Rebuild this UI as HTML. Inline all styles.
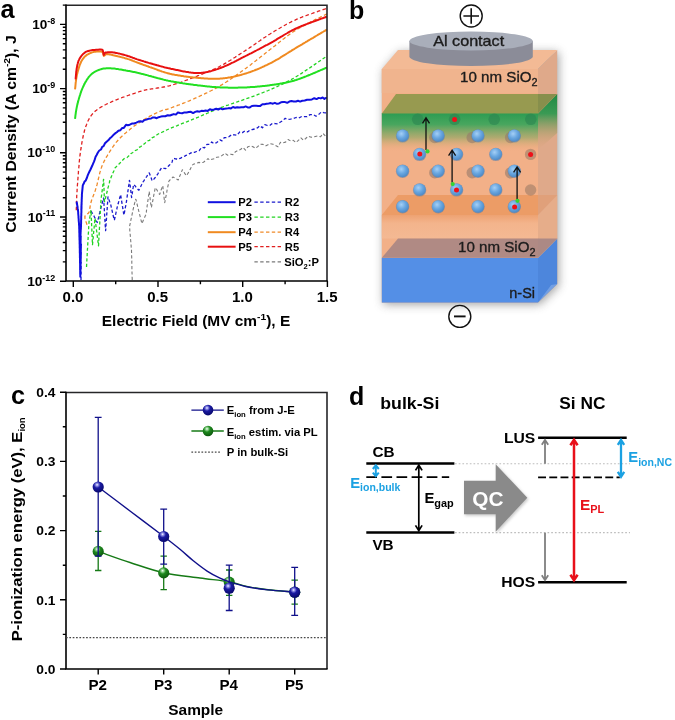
<!DOCTYPE html>
<html><head><meta charset="utf-8"><title>Figure</title>
<style>
html,body{margin:0;padding:0;background:#fff;}
body{width:675px;height:720px;overflow:hidden;}
svg{display:block;}
text{font-family:"Liberation Sans",Arial,sans-serif;}
.b{font-weight:bold;}
</style></head><body>
<svg width="675" height="720" viewBox="0 0 675 720">
<defs>
<radialGradient id="nc" cx="0.4" cy="0.35" r="0.65"><stop offset="0" stop-color="#a4cff6"/><stop offset="0.55" stop-color="#68a6e0"/><stop offset="1" stop-color="#4f8ac6"/></radialGradient>
<radialGradient id="bb" cx="0.4" cy="0.3" r="0.7"><stop offset="0" stop-color="#ffffff"/><stop offset="0.13" stop-color="#a0a0f0"/><stop offset="0.42" stop-color="#1a1aa2"/><stop offset="1" stop-color="#08086c"/></radialGradient>
<radialGradient id="gb" cx="0.4" cy="0.3" r="0.7"><stop offset="0" stop-color="#ffffff"/><stop offset="0.13" stop-color="#a8e0a8"/><stop offset="0.42" stop-color="#1f8a1f"/><stop offset="1" stop-color="#0c580c"/></radialGradient>
<linearGradient id="grn" x1="0" y1="0" x2="0" y2="1"><stop offset="0" stop-color="#2c9c52"/><stop offset="0.3" stop-color="#48a65e"/><stop offset="0.65" stop-color="#9aa868" stop-opacity="0.75"/><stop offset="1" stop-color="#f0a878" stop-opacity="0"/></linearGradient>
<linearGradient id="grnS" x1="0" y1="0" x2="0" y2="1"><stop offset="0" stop-color="#1f8a44"/><stop offset="0.35" stop-color="#3a9a54"/><stop offset="1" stop-color="#e8a070" stop-opacity="0"/></linearGradient>
<linearGradient id="low" x1="0" y1="0" x2="0" y2="1"><stop offset="0" stop-color="#eea272"/><stop offset="0.35" stop-color="#f3b48c"/><stop offset="1" stop-color="#f4b993"/></linearGradient>
<filter id="sh" x="-20%" y="-20%" width="140%" height="140%"><feGaussianBlur stdDeviation="5"/></filter>
<filter id="sh2" x="-20%" y="-20%" width="140%" height="140%"><feGaussianBlur stdDeviation="1.5"/></filter>
<clipPath id="clipA"><rect x="66" y="5" width="261.5" height="276.5"/></clipPath>
</defs>
<rect width="675" height="720" fill="#fff"/>

<g id="panelA">
<text x="0.6" y="17.6" class="b" font-size="25.3">a</text>
<g clip-path="url(#clipA)"><path d="M132.2 280.0 L132.2 279.0 L132.2 278.0 L132.1 277.0 L132.1 276.0 L132.1 275.0 L132.1 274.0 L132.0 273.0 L132.0 271.9 L132.0 270.9 L132.0 269.9 L131.9 268.9 L131.9 267.9 L131.9 266.9 L131.9 265.9 L131.8 264.9 L131.8 263.9 L131.8 262.9 L131.8 261.9 L131.8 260.9 L131.7 259.9 L131.7 258.9 L131.7 257.9 L131.7 256.9 L131.6 255.8 L131.6 254.8 L131.6 253.8 L131.6 252.8 L131.5 251.8 L131.5 250.8 L131.5 249.8 L131.4 248.8 L131.3 247.8 L131.2 246.8 L131.1 245.8 L131.1 244.8 L131.0 243.8 L130.9 242.8 L130.8 241.8 L130.7 240.8 L130.6 239.8 L130.5 238.8 L130.5 237.8 L130.4 236.8 L130.3 235.8 L130.2 234.8 L130.1 233.8 L130.0 232.8 L129.9 231.8 L129.8 230.7 L129.8 229.7 L129.7 228.7 L129.6 227.7 L129.5 226.7 L129.7 225.7 L129.9 224.8 L130.1 223.8 L130.3 222.8 L130.5 221.8 L130.7 220.8 L130.9 219.8 L131.1 218.9 L131.4 217.9 L131.6 216.9 L131.8 215.9 L132.0 214.9 L132.2 213.9 L132.4 212.9 L132.6 212.0 L132.8 211.0 L133.0 210.0 L133.2 209.0 L133.5 208.0 L133.7 207.0 L133.9 206.1 L134.2 205.1 L134.4 204.1 L134.6 203.1 L134.9 202.2 L135.1 201.2 L135.3 200.2 L135.6 199.2 L135.8 199.2 L136.1 200.1 L136.3 201.1 L136.5 202.1 L136.8 203.1 L137.0 204.0 L137.3 205.0 L137.5 206.0 L137.8 207.0 L138.0 208.0 L138.2 208.9 L138.5 209.9 L138.7 210.9 L139.0 211.9 L139.2 212.8 L139.5 213.8 L139.7 214.8 L140.0 215.8 L140.2 216.7 L140.4 217.7 L140.7 218.7 L140.9 219.7 L141.2 220.7 L141.4 221.6 L141.7 222.6 L141.9 223.6 L142.3 222.7 L142.7 221.8 L143.1 220.8 L143.5 219.9 L143.9 219.0 L144.3 218.1 L144.7 217.2 L145.1 216.2 L145.6 215.3 L146.0 214.4 L146.1 213.4 L146.3 212.4 L146.4 211.4 L146.5 210.4 L146.7 209.4 L146.8 208.4 L147.0 207.4 L147.1 206.4 L147.2 205.4 L147.4 204.4 L147.5 203.4 L147.7 202.4 L147.8 201.4 L147.9 200.4 L148.1 199.5 L148.2 198.5 L148.4 197.5 L148.5 196.5 L148.6 195.5 L148.8 194.5 L148.9 193.5 L149.1 192.5 L149.2 191.5 L149.3 192.5 L149.5 193.5 L149.6 194.5 L149.7 195.5 L149.8 196.5 L150.0 197.5 L150.1 198.5 L150.2 199.5 L150.3 200.5 L150.5 201.5 L150.6 202.5 L150.7 203.5 L150.9 204.5 L151.0 205.5 L151.1 206.5 L151.2 207.5 L151.4 207.5 L151.6 206.5 L151.8 205.5 L152.0 204.5 L152.2 203.6 L152.4 202.6 L152.6 201.6 L152.8 200.6 L153.0 199.6 L153.2 198.6 L153.4 197.6 L153.5 196.6 L153.7 195.7 L153.9 194.7 L154.1 193.7 L154.3 192.7 L154.5 191.7 L154.7 190.7 L154.9 189.7 L155.1 188.7 L155.3 187.8 L155.7 187.8 L156.2 188.6 L156.7 189.5 L157.2 190.4 L157.7 191.3 L158.2 192.1 L158.7 193.0 L159.2 193.9 L159.7 194.4 L160.0 193.5 L160.3 192.5 L160.6 191.6 L160.9 190.6 L161.2 189.7 L161.6 188.7 L161.9 187.7 L162.2 186.8 L162.5 185.8 L162.7 185.7 L162.9 186.7 L163.0 187.7 L163.1 188.7 L163.2 189.7 L163.3 190.7 L163.4 191.7 L163.5 192.7 L163.7 193.7 L163.8 194.7 L163.9 195.7 L164.0 196.7 L164.1 197.7 L164.2 198.7 L164.3 199.7 L164.5 200.7 L164.6 201.7 L164.7 202.7 L164.9 202.1 L165.0 201.1 L165.2 200.1 L165.4 199.1 L165.6 198.1 L165.8 197.1 L166.0 196.1 L166.2 195.1 L166.4 194.2 L166.6 193.2 L166.8 192.2 L166.9 191.2 L167.1 190.2 L167.3 189.2 L167.5 188.2 L167.7 187.2 L167.9 186.2 L168.1 185.3 L168.3 184.3 L168.5 183.3 L168.7 182.3 L168.8 181.3 L169.4 180.5 L170.1 179.8 L170.8 179.1 L171.6 178.4 L172.3 177.7 L173.0 177.0 L173.9 177.5 L174.7 178.0 L175.6 178.5 L176.5 179.0 L177.4 179.5 L178.2 180.0 L178.6 179.0 L179.0 178.1 L179.4 177.2 L179.7 176.2 L180.1 175.3 L180.5 174.4 L180.9 173.4 L181.3 172.5 L181.6 171.6 L182.0 170.6 L182.4 169.7 L182.9 170.5 L183.5 171.4 L184.0 172.2 L184.6 173.1 L185.1 173.9 L185.7 174.8 L186.2 175.6 L186.8 175.5 L187.2 174.7 L187.7 173.8 L188.2 172.9 L188.7 172.0 L189.2 171.1 L189.7 170.2 L190.1 169.4 L190.6 168.5 L191.1 167.6 L191.6 166.7 L192.1 165.8 L192.6 164.9 L193.3 164.3 L194.2 164.0 L195.2 163.7 L196.1 163.4 L197.1 163.0 L198.0 162.7 L199.0 162.4 L200.7 162.9 L203.5 162.2 L208.0 158.6 L209.9 160.1 L212.0 159.2 L214.3 158.8 L216.8 157.2 L219.5 157.0 L222.2 155.4 L225.0 153.3 L227.7 155.2 L230.4 154.3 L233.0 154.6 L235.5 151.7 L238.0 150.4 L240.5 149.5 L243.0 147.5 L245.5 150.1 L248.0 146.7 L250.5 146.0 L253.0 146.7 L255.5 148.4 L258.0 146.3 L260.5 144.3 L263.0 144.4 L265.5 145.9 L268.0 144.7 L270.5 143.7 L273.0 144.3 L275.5 145.4 L278.0 146.8 L280.5 142.3 L283.0 142.8 L285.5 142.1 L288.1 139.6 L290.7 141.0 L293.3 140.3 L295.9 142.5 L298.4 140.3 L300.9 137.8 L303.4 140.2 L305.7 138.5 L308.0 136.2 L311.2 137.2 L314.4 136.8 L317.6 136.0 L320.5 136.8 L323.1 133.5 L325.3 135.9 L327.0 137.3" fill="none" stroke="#7a7a7a" stroke-width="1.1" stroke-linejoin="round" stroke-dasharray="3.2 2.2"/>
<path d="M81.0 280.0 L81.0 262.0" fill="none" stroke="#1a1acc" stroke-width="1.3" stroke-linejoin="round" stroke-dasharray="3.2 2.2"/>
<path d="M91.0 211.0 L91.5 211.9 L92.0 212.7 L92.5 213.6 L93.0 214.5 L93.6 215.3 L94.1 216.2 L94.5 217.1 L95.0 218.0 L95.4 218.9 L95.9 219.8 L96.3 220.7 L96.8 221.6 L97.2 222.5 L97.5 221.8 L97.7 220.8 L98.0 219.8 L98.2 218.8 L98.5 217.9 L98.7 216.9 L98.9 215.9 L99.2 214.9 L99.4 214.0 L99.7 213.0 L99.9 212.0 L100.1 211.0 L100.4 210.1 L100.6 209.1 L100.9 208.1 L101.1 207.1 L101.4 206.2 L101.7 205.2 L101.9 204.2 L102.2 203.2 L102.4 202.3 L102.7 201.3 L102.9 200.3 L103.2 199.4 L103.4 198.4 L103.6 198.0 L103.7 199.0 L103.7 200.0 L103.8 201.0 L103.9 202.0 L103.9 203.0 L104.0 204.0 L104.0 205.0 L104.1 206.0 L104.2 207.0 L104.2 208.0 L104.3 209.0 L104.3 210.0 L104.4 211.0 L104.5 212.0 L104.5 213.0 L104.6 214.0 L104.6 215.0 L104.7 216.1 L104.8 217.1 L104.8 218.1 L104.9 219.1 L104.9 220.1 L105.0 221.1 L105.1 222.1 L105.1 223.1 L105.2 224.1 L105.2 225.1 L105.3 226.1 L105.4 227.1 L105.4 228.1 L105.5 229.1 L105.6 230.1 L105.6 230.7 L105.7 229.7 L105.8 228.7 L105.8 227.7 L105.9 226.7 L106.0 225.7 L106.0 224.7 L106.1 223.7 L106.2 222.7 L106.2 221.7 L106.3 220.7 L106.4 219.7 L106.5 218.7 L106.5 217.7 L106.6 216.7 L106.7 215.7 L106.7 214.7 L106.8 213.7 L106.9 212.7 L107.0 211.7 L107.0 210.7 L107.1 209.6 L107.2 208.6 L107.2 207.6 L107.3 206.6 L107.4 205.6 L107.4 204.6 L107.5 203.6 L107.6 202.6 L107.7 201.6 L107.7 200.6 L107.8 199.6 L107.9 198.6 L107.9 197.6 L108.0 196.8 L108.3 197.7 L108.7 198.7 L109.0 199.6 L109.3 200.6 L109.6 201.5 L110.0 202.5 L110.3 203.4 L110.6 204.4 L110.9 205.4 L111.1 206.3 L111.3 207.3 L111.5 208.3 L111.8 209.3 L112.0 210.3 L112.2 211.2 L112.4 212.2 L112.7 213.2 L112.9 214.2 L113.1 215.2 L113.3 216.1 L113.5 217.1 L113.8 218.1 L114.0 219.1 L114.2 220.1 L114.4 220.0 L114.6 219.0 L114.8 218.0 L115.1 217.0 L115.3 216.0 L115.5 215.0 L115.7 214.1 L115.9 213.1 L116.1 212.1 L116.3 211.1 L116.5 210.1 L116.8 209.2 L117.0 208.2 L117.2 207.2 L117.5 206.2 L117.7 205.3 L118.0 204.3 L118.3 203.3 L118.5 202.3 L118.8 201.4 L119.0 200.4 L119.3 199.4 L119.6 198.5 L119.8 197.5 L120.1 196.5 L120.3 195.6 L120.6 194.6 L120.8 195.6 L120.9 196.6 L121.1 197.6 L121.2 198.6 L121.4 199.6 L121.6 200.6 L121.7 201.6 L121.9 202.6 L122.0 203.6 L122.2 204.5 L122.3 205.5 L122.5 206.5 L122.7 207.5 L122.8 208.5 L123.0 209.5 L123.1 210.5 L123.3 211.5 L123.5 212.5 L123.6 213.5 L123.8 214.5 L123.9 215.1 L124.1 214.2 L124.3 213.2 L124.5 212.2 L124.7 211.2 L124.9 210.2 L125.0 209.2 L125.2 208.2 L125.4 207.2 L125.6 206.3 L125.8 205.3 L126.0 204.3 L126.1 203.3 L126.3 202.3 L126.5 201.3 L126.6 200.3 L126.8 199.3 L126.9 198.3 L127.0 197.3 L127.2 196.3 L127.3 195.3 L127.5 194.3 L127.6 193.3 L127.8 192.4 L127.9 191.4 L128.0 190.4 L128.2 189.4 L128.3 188.4 L128.5 187.4 L128.6 186.4 L128.7 185.4 L128.9 184.4 L129.0 183.4 L129.2 182.4 L129.3 181.4 L129.4 180.4 L129.6 180.6 L129.7 181.6 L129.8 182.6 L129.9 183.6 L130.0 184.6 L130.2 185.6 L130.3 186.6 L130.4 187.6 L130.5 188.6 L130.6 189.6 L130.8 190.6 L130.9 191.6 L131.0 192.6 L131.1 193.6 L131.2 194.6 L131.3 195.6 L131.5 196.6 L131.6 197.5 L131.7 196.9 L131.9 195.9 L132.0 194.9 L132.2 193.9 L132.3 192.9 L132.5 191.9 L132.6 190.9 L132.8 189.9 L132.9 188.9 L133.1 187.9 L133.2 186.9 L133.3 185.9 L133.5 184.9 L133.8 184.4 L134.4 185.2 L135.1 185.9 L135.7 186.7 L136.4 187.5 L137.0 188.3 L137.6 189.0 L138.3 189.8 L138.9 190.2 L139.3 189.3 L139.8 188.4 L140.2 187.5 L140.7 186.6 L141.1 185.7 L141.6 184.8 L142.0 183.9 L142.5 183.0 L142.9 182.1 L143.5 181.3 L144.1 180.4 L144.6 179.6 L145.2 178.8 L145.7 177.9 L146.3 177.1 L146.9 176.3 L147.4 175.4 L148.0 174.6 L148.5 173.8 L149.1 172.9 L149.5 173.6 L149.9 174.5 L150.2 175.5 L150.6 176.4 L150.9 177.3 L151.3 178.3 L151.6 179.2 L152.0 180.2 L152.4 180.9 L153.0 180.1 L153.7 179.4 L154.3 178.6 L155.0 177.8 L155.6 177.1 L156.2 176.3 L156.8 175.5 L157.3 174.6 L157.9 173.8 L158.4 172.9 L158.9 172.0 L159.4 171.2 L159.9 170.3 L160.5 169.5 L161.0 168.6 L161.5 167.7 L162.4 167.8 L163.4 168.1 L164.4 168.3 L165.3 168.6 L166.2 168.3 L166.9 167.6 L167.6 166.9 L168.3 166.2 L169.0 165.5 L169.7 164.8 L170.4 164.0 L171.1 163.3 L171.8 162.6 L172.2 161.7 L172.4 160.7 L172.6 159.8 L172.9 158.8 L173.5 158.4 L174.5 158.6 L175.5 158.8 L176.5 159.0 L177.5 159.2 L178.4 159.2 L179.3 158.7 L180.2 158.3 L181.1 157.9 L182.0 157.4 L182.9 157.0 L183.8 156.5 L184.7 156.1 L185.6 155.6 L186.5 155.2 L187.4 154.7 L188.3 154.3 L189.2 153.8 L190.1 153.4 L191.0 152.9 L191.9 152.5 L192.8 152.0 L194.4 152.3 L196.5 151.5 L199.1 150.7 L201.8 147.2 L204.5 147.8 L207.0 144.3 L209.5 144.3 L211.7 142.0 L214.0 143.6 L216.7 142.6 L220.0 139.8 L222.0 140.8 L224.2 137.7 L226.6 137.6 L229.1 136.6 L231.8 134.6 L234.4 134.9 L237.1 135.3 L239.8 131.8 L242.4 132.6 L245.0 130.9 L247.5 131.9 L250.0 130.0 L252.5 129.5 L255.0 128.9 L257.4 127.9 L259.9 125.8 L262.4 127.8 L264.9 124.7 L267.5 125.5 L270.0 125.3 L272.5 123.3 L275.1 123.6 L277.6 123.9 L280.1 122.2 L282.6 120.8 L285.2 118.3 L287.8 119.4 L290.5 119.1 L293.2 118.6 L296.0 117.5 L298.5 118.2 L301.2 116.7 L304.1 116.6 L307.1 116.6 L310.1 114.6 L313.1 114.5 L316.0 116.2 L318.8 114.4 L321.3 112.0 L323.6 112.6 L325.5 112.8 L327.0 113.1" fill="none" stroke="#1a1acc" stroke-width="1.3" stroke-linejoin="round" stroke-dasharray="3.2 2.2"/>
<path d="M86.5 267.0 L86.6 266.0 L86.6 265.0 L86.7 264.0 L86.7 263.0 L86.8 262.0 L86.8 261.0 L86.9 260.0 L86.9 259.0 L87.0 258.0 L87.1 257.0 L87.1 256.0 L87.2 255.0 L87.2 253.9 L87.3 252.9 L87.3 251.9 L87.4 250.9 L87.4 249.9 L87.5 248.9 L87.6 247.9 L87.6 246.9 L87.7 245.9 L87.7 244.9 L87.8 243.9 L87.8 242.9 L87.9 241.9 L88.0 240.9 L88.0 239.9 L88.1 238.9 L88.1 237.9 L88.2 236.9 L88.2 235.9 L88.3 234.9 L88.3 233.9 L88.4 232.9 L88.5 231.9 L88.5 230.9 L88.6 229.8 L88.6 228.8 L88.7 227.8 L88.7 226.8 L88.8 225.8 L88.8 224.8 L88.9 223.8 L89.0 222.8 L89.0 221.8 L89.2 220.8 L89.4 219.8 L89.5 218.8 L89.7 217.8 L89.9 216.9 L90.0 215.9 L90.2 214.9 L90.4 213.9 L90.5 212.9 L90.7 211.9 L90.8 210.9 L91.0 210.1 L91.0 211.1 L91.1 212.1 L91.1 213.1 L91.2 214.1 L91.2 215.1 L91.3 216.1 L91.3 217.1 L91.3 218.1 L91.4 219.1 L91.4 220.1 L91.5 221.1 L91.5 222.1 L91.6 223.2 L91.6 224.2 L91.6 225.2 L91.7 226.2 L91.7 227.2 L91.8 228.2 L91.8 229.2 L91.9 230.2 L91.9 231.2 L92.0 232.2 L92.0 233.2 L92.0 234.2 L92.1 235.2 L92.1 236.2 L92.2 237.2 L92.2 238.2 L92.3 239.2 L92.3 240.2 L92.3 241.2 L92.4 242.2 L92.4 243.2 L92.5 244.3 L92.5 244.7 L92.6 243.7 L92.7 242.7 L92.8 241.7 L92.9 240.7 L93.0 239.7 L93.1 238.7 L93.2 237.7 L93.3 236.7 L93.4 235.7 L93.5 234.7 L93.5 233.7 L93.6 232.7 L93.7 231.7 L93.8 230.7 L93.9 229.7 L94.0 228.7 L94.1 227.7 L94.2 226.7 L94.3 225.7 L94.4 224.7 L94.5 223.7 L94.6 222.7 L94.7 221.7 L94.7 220.7 L94.8 219.7 L94.9 218.7 L95.0 218.3 L95.2 219.3 L95.3 220.3 L95.4 221.3 L95.5 222.3 L95.7 223.3 L95.8 224.3 L95.9 225.3 L96.0 226.3 L96.2 227.3 L96.3 228.3 L96.4 229.3 L96.5 230.3 L96.7 231.3 L96.8 232.3 L96.9 233.3 L97.0 234.3 L97.2 235.3 L97.3 236.3 L97.4 237.3 L97.5 238.3 L97.7 239.3 L97.8 240.3 L97.9 241.2 L98.0 242.2 L98.2 243.2 L98.3 244.2 L98.4 245.2 L98.5 245.8 L98.6 244.8 L98.6 243.8 L98.7 242.7 L98.7 241.7 L98.8 240.7 L98.8 239.7 L98.9 238.7 L98.9 237.7 L99.0 236.7 L99.1 235.7 L99.1 234.7 L99.2 233.7 L99.2 232.7 L99.3 231.7 L99.3 230.7 L99.4 229.7 L99.4 228.7 L99.5 227.7 L99.5 226.7 L99.6 225.7 L99.7 224.7 L99.7 223.7 L99.8 222.7 L99.8 221.7 L99.9 220.7 L99.9 219.7 L100.0 218.6 L100.0 217.6 L100.1 216.6 L100.2 215.6 L100.2 214.6 L100.3 213.6 L100.3 212.6 L100.4 211.6 L100.4 210.6 L100.5 209.6 L100.5 208.6 L100.6 207.6 L100.6 206.6 L100.7 205.6 L100.8 204.6 L100.8 203.6 L100.9 202.6 L100.9 201.6 L101.0 200.6 L101.1 199.6 L101.2 198.6 L101.3 197.6 L101.4 196.6 L101.5 195.6 L101.7 194.6 L101.8 193.6 L101.9 192.6 L102.0 191.6 L102.2 190.6 L102.3 189.6 L102.4 188.6 L102.5 187.6 L102.7 186.6 L102.8 185.6 L102.9 184.6 L103.0 183.6 L103.2 182.6 L103.3 181.6 L103.4 180.6 L103.5 179.6 L103.6 179.4 L103.7 180.4 L103.7 181.4 L103.7 182.4 L103.8 183.4 L103.8 184.4 L103.9 185.4 L103.9 186.4 L103.9 187.4 L104.0 188.4 L104.0 189.4 L104.0 190.4 L104.1 191.5 L104.1 192.5 L104.2 193.5 L104.2 194.5 L104.2 195.5 L104.3 196.5 L104.3 197.5 L104.4 198.5 L104.4 199.5 L104.4 200.5 L104.5 201.5 L104.6 201.5 L104.9 200.5 L105.1 199.6 L105.4 198.6 L105.6 197.6 L105.8 196.6 L106.1 195.7 L106.3 194.7 L106.6 193.7 L106.8 192.7 L107.1 191.8 L107.3 190.8 L107.6 189.8 L107.8 188.8 L108.0 187.8 L108.3 186.9 L108.5 185.9 L108.8 184.9 L109.0 183.9 L109.3 183.0 L109.5 182.0 L109.7 181.0 L110.0 180.0 L110.4 179.1 L110.8 178.2 L111.1 177.3 L111.5 176.3 L111.9 175.4 L112.3 174.5 L112.7 173.5 L113.1 172.6 L113.5 171.7 L113.9 170.8 L114.2 169.8 L114.6 168.9 L115.0 168.0 L115.7 167.3 L116.4 166.6 L117.2 165.8 L117.9 165.1 L118.6 164.4 L119.3 163.7 L120.0 163.0 L121.8 160.9 L124.3 158.6 L127.0 157.6 L128.9 155.8 L130.8 153.7 L132.8 152.5 L135.0 150.7 L136.8 150.0 L138.8 147.5 L140.8 146.6 L142.8 145.1 L145.0 143.2 L147.3 141.0 L149.6 140.3 L152.0 137.8 L154.5 136.6 L157.0 134.8 L159.3 133.3 L161.5 132.5 L163.9 131.3 L166.6 130.0 L170.0 128.5 L172.0 127.6 L174.3 126.7 L176.7 125.8 L179.2 124.7 L181.8 123.7 L184.5 122.6 L187.3 121.6 L190.0 120.5 L192.6 119.4 L195.2 118.4 L197.7 117.4 L200.2 116.3 L202.8 115.2 L205.3 114.1 L207.8 113.0 L210.3 111.9 L212.8 110.9 L215.4 109.8 L217.9 108.8 L220.4 107.8 L222.9 106.9 L225.4 105.9 L228.0 105.1 L230.5 104.2 L233.0 103.3 L235.5 102.5 L238.0 101.6 L240.6 100.8 L243.1 99.9 L245.6 99.0 L248.1 98.1 L250.6 97.2 L253.2 96.3 L255.7 95.4 L258.2 94.4 L260.7 93.5 L263.2 92.5 L265.8 91.5 L268.3 90.5 L270.8 89.4 L273.1 88.4 L275.3 87.4 L277.5 86.4 L279.7 85.4 L281.9 84.3 L284.2 83.3 L286.4 82.1 L288.7 80.9 L291.1 79.6 L293.5 78.3 L296.0 76.8 L298.1 75.5 L300.4 74.1 L302.8 72.5 L305.3 70.8 L307.9 69.1 L310.5 67.4 L313.1 65.6 L315.6 63.9 L318.0 62.2 L320.2 60.7 L322.3 59.2 L324.1 58.0 L325.7 56.9 L327.0 56.0" fill="none" stroke="#22d322" stroke-width="1.3" stroke-linejoin="round" stroke-dasharray="3.2 2.2"/>
<path d="M87.0 224.7 L86.8 224.0 L86.5 223.1 L86.1 222.0 L85.7 220.8 L85.3 219.6 L85.0 218.4 L84.9 217.3 L84.9 216.4 L85.4 215.4 L86.2 214.7 L87.2 214.1 L88.2 213.4 L89.0 212.2 L89.3 211.4 L89.5 210.6 L89.7 209.7 L89.8 208.7 L90.0 207.7 L90.1 206.6 L90.3 205.5 L90.5 204.3 L90.8 203.1 L91.1 201.9 L91.4 201.1 L91.6 200.2 L92.0 199.3 L92.3 198.4 L92.6 197.4 L93.0 196.5 L93.4 195.5 L93.8 194.5 L94.2 193.5 L94.5 192.5 L94.9 191.4 L95.3 190.4 L95.6 189.4 L96.0 188.3 L96.3 187.3 L96.6 186.4 L96.8 185.4 L97.1 184.4 L97.3 183.4 L97.6 182.4 L97.8 181.3 L98.1 180.3 L98.3 179.3 L98.5 178.2 L98.8 177.2 L99.0 176.2 L99.2 175.2 L99.5 174.2 L99.7 173.3 L99.9 172.4 L100.2 171.5 L100.4 170.7 L100.8 169.5 L101.1 168.4 L101.5 167.4 L101.8 166.5 L102.2 165.6 L102.6 164.7 L102.9 163.9 L103.3 163.0 L103.7 162.2 L104.1 161.3 L104.6 160.4 L105.0 159.5 L105.5 158.7 L106.0 157.8 L106.5 156.9 L107.0 156.1 L107.5 155.2 L108.0 154.3 L108.6 153.5 L109.1 152.6 L109.7 151.7 L110.2 150.9 L110.8 150.0 L111.4 149.1 L111.9 148.3 L112.5 147.5 L113.0 146.6 L113.6 145.8 L114.2 145.0 L114.8 144.1 L115.4 143.3 L116.1 142.4 L116.8 141.6 L117.6 140.7 L118.4 139.8 L119.0 139.1 L119.7 138.4 L120.4 137.7 L121.1 137.0 L121.9 136.3 L122.6 135.6 L123.4 134.9 L124.2 134.1 L125.0 133.4 L125.9 132.7 L126.7 132.0 L127.6 131.3 L128.4 130.6 L129.3 129.9 L130.1 129.2 L131.0 128.5 L131.8 127.9 L132.6 127.3 L133.4 126.7 L134.2 126.1 L135.0 125.5 L135.8 125.0 L136.7 124.4 L137.5 123.8 L138.4 123.2 L139.3 122.7 L140.1 122.1 L141.0 121.5 L141.8 121.0 L142.7 120.5 L143.6 119.9 L144.4 119.4 L145.3 118.9 L146.1 118.4 L147.1 117.8 L148.0 117.3 L149.0 116.7 L150.0 116.2 L151.0 115.7 L152.0 115.1 L153.0 114.6 L154.0 114.1 L155.0 113.6 L156.0 113.2 L156.9 112.7 L157.9 112.3 L158.8 111.9 L159.6 111.5 L160.4 111.1 L161.2 110.8 L162.4 110.3 L163.3 110.0 L164.0 109.9 L164.6 109.8 L165.3 109.7 L166.1 109.5 L167.1 109.3 L168.3 108.9 L170.0 108.3 L170.7 108.1 L171.3 107.8 L172.1 107.5 L172.9 107.2 L173.7 106.9 L174.5 106.6 L175.4 106.3 L176.3 105.9 L177.2 105.6 L178.1 105.2 L179.1 104.9 L180.1 104.5 L181.1 104.1 L182.1 103.7 L183.1 103.3 L184.1 102.9 L185.2 102.5 L186.2 102.0 L187.2 101.6 L188.3 101.2 L189.3 100.8 L190.3 100.3 L191.3 99.9 L192.3 99.5 L193.3 99.0 L194.3 98.6 L195.2 98.2 L196.1 97.8 L197.0 97.4 L197.9 97.0 L198.8 96.6 L199.7 96.2 L200.6 95.7 L201.5 95.3 L202.4 94.9 L203.3 94.5 L204.2 94.1 L205.1 93.6 L206.0 93.2 L206.9 92.8 L207.8 92.3 L208.7 91.9 L209.6 91.4 L210.5 91.0 L211.4 90.5 L212.3 90.1 L213.2 89.6 L214.1 89.1 L215.0 88.6 L215.9 88.2 L216.8 87.7 L217.7 87.2 L218.6 86.6 L219.5 86.1 L220.4 85.6 L221.2 85.1 L222.1 84.6 L222.9 84.1 L223.8 83.6 L224.6 83.0 L225.4 82.5 L226.3 82.0 L227.1 81.4 L228.0 80.9 L228.8 80.3 L229.6 79.8 L230.5 79.2 L231.3 78.6 L232.2 78.1 L233.0 77.5 L233.8 76.9 L234.7 76.3 L235.5 75.7 L236.4 75.1 L237.2 74.5 L238.0 73.9 L238.9 73.3 L239.7 72.7 L240.6 72.1 L241.4 71.5 L242.2 70.9 L243.1 70.3 L243.9 69.7 L244.8 69.1 L245.6 68.5 L246.4 67.9 L247.2 67.3 L248.0 66.7 L248.9 66.1 L249.7 65.5 L250.5 64.9 L251.3 64.2 L252.1 63.6 L252.9 63.0 L253.7 62.4 L254.5 61.7 L255.4 61.1 L256.2 60.5 L257.0 59.8 L257.8 59.2 L258.6 58.5 L259.4 57.9 L260.2 57.3 L261.0 56.6 L261.9 56.0 L262.7 55.3 L263.5 54.7 L264.3 54.1 L265.1 53.4 L265.9 52.8 L266.7 52.1 L267.5 51.5 L268.4 50.9 L269.2 50.2 L270.0 49.6 L270.8 49.0 L271.6 48.4 L272.4 47.8 L273.2 47.1 L274.0 46.5 L274.8 45.9 L275.6 45.2 L276.4 44.6 L277.2 44.0 L277.9 43.4 L278.7 42.7 L279.5 42.1 L280.3 41.5 L281.1 40.8 L281.9 40.2 L282.6 39.6 L283.4 39.0 L284.2 38.4 L285.0 37.7 L285.8 37.1 L286.6 36.5 L287.4 35.9 L288.3 35.3 L289.1 34.7 L289.9 34.1 L290.8 33.5 L291.6 32.9 L292.5 32.3 L293.3 31.7 L294.2 31.1 L295.1 30.6 L296.0 30.0 L296.8 29.5 L297.7 29.0 L298.6 28.4 L299.6 27.9 L300.5 27.3 L301.5 26.8 L302.5 26.2 L303.6 25.7 L304.6 25.1 L305.6 24.6 L306.7 24.0 L307.8 23.5 L308.8 22.9 L309.9 22.4 L311.0 21.8 L312.0 21.3 L313.1 20.8 L314.1 20.2 L315.1 19.7 L316.2 19.2 L317.1 18.8 L318.1 18.3 L319.1 17.8 L320.0 17.4 L320.9 16.9 L321.7 16.5 L322.5 16.1 L323.3 15.7 L324.0 15.4 L324.7 15.0 L325.4 14.7 L326.0 14.4 L326.5 14.1 L327.0 13.9" fill="none" stroke="#f08a28" stroke-width="1.3" stroke-linejoin="round" stroke-dasharray="3.6 2.4"/>
<path d="M76.3 210.3 L76.3 209.7 L76.3 209.1 L76.3 208.4 L76.4 207.6 L76.4 206.7 L76.4 205.7 L76.4 204.7 L76.5 203.7 L76.5 202.6 L76.5 201.4 L76.6 200.2 L76.6 198.9 L76.7 197.6 L76.7 196.3 L76.8 195.0 L76.8 194.2 L76.9 193.3 L77.0 192.4 L77.0 191.5 L77.1 190.5 L77.1 189.5 L77.2 188.5 L77.3 187.5 L77.3 186.5 L77.4 185.4 L77.5 184.3 L77.6 183.3 L77.6 182.2 L77.7 181.1 L77.8 180.0 L77.9 179.0 L78.0 177.9 L78.0 176.8 L78.1 175.8 L78.2 174.8 L78.3 173.8 L78.4 172.8 L78.4 171.8 L78.5 170.9 L78.6 170.0 L78.7 168.9 L78.8 167.8 L78.9 166.7 L79.0 165.6 L79.1 164.6 L79.2 163.6 L79.2 162.6 L79.3 161.6 L79.4 160.7 L79.5 159.7 L79.6 158.8 L79.7 157.8 L79.8 156.9 L79.9 155.9 L80.1 155.0 L80.2 154.0 L80.3 153.0 L80.5 152.0 L80.6 151.0 L80.7 150.0 L80.9 149.0 L81.1 148.0 L81.2 146.9 L81.4 145.9 L81.6 144.8 L81.7 143.8 L81.9 142.7 L82.1 141.7 L82.3 140.6 L82.5 139.6 L82.7 138.5 L82.9 137.5 L83.1 136.5 L83.3 135.5 L83.5 134.5 L83.7 133.6 L84.0 132.7 L84.2 131.8 L84.4 131.0 L84.7 129.8 L85.1 128.6 L85.4 127.5 L85.8 126.4 L86.2 125.4 L86.6 124.4 L86.9 123.5 L87.3 122.5 L87.7 121.7 L88.1 120.8 L88.5 120.0 L89.0 119.2 L89.4 118.4 L90.0 117.3 L90.6 116.4 L91.3 115.4 L91.9 114.6 L92.6 113.8 L93.3 113.1 L94.0 112.3 L94.8 111.6 L95.7 110.8 L96.5 110.2 L97.3 109.6 L98.1 109.0 L99.0 108.4 L99.9 107.8 L100.8 107.2 L101.8 106.7 L102.8 106.1 L103.8 105.6 L104.8 105.0 L105.8 104.5 L106.7 104.0 L107.6 103.6 L108.5 103.2 L109.5 102.7 L110.5 102.3 L111.4 101.9 L112.4 101.4 L113.4 101.0 L114.4 100.6 L115.4 100.2 L116.4 99.8 L117.4 99.4 L118.4 99.0 L119.4 98.6 L120.3 98.3 L121.3 97.9 L122.2 97.5 L123.1 97.2 L124.1 96.9 L125.0 96.5 L126.0 96.2 L126.9 95.9 L127.9 95.5 L128.9 95.2 L129.9 94.8 L131.0 94.5 L131.9 94.2 L132.8 93.9 L133.7 93.6 L134.6 93.3 L135.5 93.0 L136.4 92.7 L137.4 92.3 L138.3 92.0 L139.3 91.7 L140.3 91.4 L141.4 91.1 L142.5 90.8 L143.6 90.5 L144.8 90.2 L146.1 89.9 L146.9 89.7 L147.8 89.5 L148.7 89.4 L149.6 89.2 L150.5 89.1 L151.4 88.9 L152.4 88.8 L153.4 88.6 L154.4 88.5 L155.4 88.3 L156.4 88.2 L157.4 88.0 L158.5 87.9 L159.5 87.7 L160.6 87.5 L161.6 87.4 L162.7 87.2 L163.7 87.0 L164.8 86.8 L165.8 86.6 L166.9 86.4 L167.9 86.1 L169.0 85.9 L170.0 85.6 L170.9 85.3 L171.9 85.1 L172.8 84.8 L173.8 84.5 L174.8 84.2 L175.7 83.9 L176.7 83.6 L177.7 83.3 L178.6 83.0 L179.6 82.6 L180.6 82.3 L181.5 82.0 L182.5 81.6 L183.5 81.3 L184.5 80.9 L185.4 80.5 L186.4 80.2 L187.4 79.8 L188.4 79.4 L189.4 79.1 L190.3 78.7 L191.3 78.3 L192.3 77.9 L193.3 77.6 L194.2 77.2 L195.2 76.8 L196.1 76.4 L197.1 76.1 L198.0 75.7 L198.9 75.4 L199.9 75.0 L200.8 74.6 L201.7 74.3 L202.7 73.9 L203.6 73.5 L204.5 73.2 L205.5 72.8 L206.4 72.4 L207.3 72.0 L208.3 71.6 L209.2 71.2 L210.1 70.8 L211.1 70.4 L212.0 70.0 L212.9 69.6 L213.9 69.2 L214.8 68.8 L215.7 68.3 L216.7 67.9 L217.6 67.4 L218.5 67.0 L219.5 66.5 L220.4 66.0 L221.3 65.5 L222.1 65.1 L223.0 64.6 L223.9 64.1 L224.7 63.6 L225.6 63.1 L226.5 62.6 L227.4 62.1 L228.2 61.6 L229.1 61.0 L230.0 60.5 L230.8 60.0 L231.7 59.4 L232.6 58.9 L233.4 58.3 L234.3 57.7 L235.2 57.2 L236.0 56.6 L236.9 56.1 L237.8 55.5 L238.6 54.9 L239.5 54.4 L240.4 53.8 L241.3 53.2 L242.1 52.7 L243.0 52.1 L243.9 51.5 L244.7 51.0 L245.6 50.4 L246.4 49.9 L247.3 49.3 L248.1 48.7 L249.0 48.2 L249.8 47.6 L250.6 47.1 L251.5 46.5 L252.3 45.9 L253.2 45.3 L254.0 44.8 L254.8 44.2 L255.7 43.6 L256.5 43.0 L257.4 42.4 L258.2 41.8 L259.0 41.3 L259.9 40.7 L260.7 40.1 L261.6 39.5 L262.4 39.0 L263.2 38.4 L264.1 37.8 L264.9 37.3 L265.8 36.7 L266.6 36.2 L267.4 35.6 L268.3 35.1 L269.1 34.5 L270.0 34.0 L270.8 33.5 L271.7 33.0 L272.6 32.4 L273.5 31.9 L274.3 31.3 L275.2 30.8 L276.1 30.3 L277.0 29.8 L277.8 29.2 L278.7 28.7 L279.6 28.2 L280.4 27.7 L281.3 27.2 L282.2 26.7 L283.0 26.2 L283.9 25.7 L284.8 25.2 L285.7 24.7 L286.6 24.2 L287.5 23.8 L288.4 23.3 L289.3 22.8 L290.2 22.4 L291.2 21.9 L292.1 21.4 L293.1 21.0 L294.0 20.5 L295.0 20.1 L296.0 19.6 L296.9 19.2 L297.8 18.8 L298.8 18.4 L299.8 18.0 L300.8 17.6 L301.9 17.2 L303.0 16.7 L304.1 16.3 L305.2 15.9 L306.3 15.5 L307.4 15.1 L308.6 14.7 L309.7 14.3 L310.8 13.9 L312.0 13.5 L313.1 13.1 L314.2 12.7 L315.3 12.3 L316.3 12.0 L317.4 11.6 L318.4 11.2 L319.4 10.9 L320.4 10.6 L321.3 10.3 L322.2 10.0 L323.0 9.7 L323.8 9.4 L324.6 9.2 L325.3 8.9 L325.9 8.7 L326.5 8.5 L327.0 8.3" fill="none" stroke="#e02020" stroke-width="1.3" stroke-linejoin="round" stroke-dasharray="3.6 2.4"/>
<path d="M76.6 201.5 L76.8 202.5 L76.9 203.5 L77.1 204.5 L77.3 205.5 L77.4 206.5 L77.6 207.5 L77.7 208.4 L77.9 209.4 L78.0 210.4 L78.1 211.4 L78.2 212.4 L78.2 213.4 L78.3 214.5 L78.4 215.5 L78.5 216.5 L78.5 217.5 L78.6 218.5 L78.7 219.5 L78.7 220.5 L78.8 221.5 L78.9 222.5 L79.0 223.5 L79.0 224.5 L79.1 225.5 L79.2 226.5 L79.2 227.5 L79.2 228.5 L79.3 229.5 L79.3 230.5 L79.3 231.5 L79.3 232.5 L79.4 233.5 L79.4 234.5 L79.4 235.5 L79.4 236.6 L79.5 237.6 L79.5 238.6 L79.5 239.6 L79.6 240.6 L79.6 241.6 L79.6 242.6 L79.6 243.6 L79.7 244.6 L79.7 245.6 L79.7 246.6 L79.7 247.6 L79.8 248.6 L79.8 249.6 L79.8 250.6 L79.8 251.6 L79.8 252.6 L79.9 253.7 L79.9 254.7 L79.9 255.7 L79.9 256.7 L79.9 257.7 L80.0 258.7 L80.0 259.7 L80.0 260.7 L80.0 261.7 L80.0 262.7 L80.1 263.7 L80.1 264.7 L80.1 265.7 L80.1 266.7 L80.1 267.7 L80.1 268.7 L80.2 269.7 L80.2 270.8 L80.2 271.8 L80.2 272.8 L80.2 273.8 L80.3 274.8 L80.3 275.8 L80.3 276.8 L80.3 276.2 L80.3 275.2 L80.4 274.2 L80.4 273.2 L80.4 272.2 L80.4 271.2 L80.5 270.2 L80.5 269.2 L80.5 268.2 L80.5 267.2 L80.6 266.2 L80.6 265.1 L80.6 264.1 L80.6 263.1 L80.7 262.1 L80.7 261.1 L80.7 260.1 L80.7 259.1 L80.8 258.1 L80.8 257.1 L80.8 256.1 L80.8 255.1 L80.9 254.1 L80.9 253.1 L80.9 252.1 L80.9 252.9 L80.8 253.9 L80.8 254.9 L80.7 256.0 L80.7 257.0 L80.6 258.0 L80.6 259.0 L80.5 260.0 L80.5 261.0 L80.5 262.0 L80.4 263.0 L80.4 264.0 L80.3 265.0 L80.3 266.0 L80.2 267.0 L80.2 268.0 L80.1 269.0 L80.1 270.0 L80.1 269.0 L80.2 268.0 L80.2 267.0 L80.2 266.0 L80.3 265.0 L80.3 263.9 L80.3 262.9 L80.4 261.9 L80.4 260.9 L80.4 259.9 L80.5 258.9 L80.5 257.9 L80.6 256.9 L80.6 255.9 L80.6 254.9 L80.7 253.9 L80.7 252.9 L80.7 251.9 L80.8 250.9 L80.8 249.9 L80.8 248.9 L80.9 247.9 L80.9 246.9 L80.9 245.8 L81.0 244.8 L81.0 244.2 L80.9 245.2 L80.8 246.2 L80.8 247.2 L80.7 248.2 L80.6 249.2 L80.6 250.2 L80.5 251.2 L80.4 252.2 L80.3 253.2 L80.3 254.2 L80.2 255.2 L80.1 256.2 L80.1 257.2 L80.0 257.8 L80.0 256.8 L80.1 255.8 L80.1 254.8 L80.2 253.8 L80.2 252.8 L80.2 251.8 L80.3 250.7 L80.3 249.7 L80.3 248.7 L80.4 247.7 L80.4 246.7 L80.4 245.7 L80.5 244.7 L80.5 243.7 L80.6 242.7 L80.6 241.7 L80.6 240.7 L80.7 239.7 L80.7 238.7 L80.7 237.7 L80.8 236.7 L80.8 236.3 L80.7 237.3 L80.6 238.3 L80.5 239.3 L80.4 240.3 L80.3 241.3 L80.2 242.3 L80.1 243.3 L80.0 244.3 L80.0 245.3 L79.9 245.6 L80.0 244.6 L80.0 243.6 L80.1 242.6 L80.1 241.6 L80.2 240.6 L80.3 239.6 L80.3 238.6 L80.4 237.6 L80.4 236.6 L80.5 235.6 L80.5 234.6 L80.6 233.6 L80.6 232.6 L80.7 231.6 L80.7 230.6 L80.8 229.6 L80.9 228.6 L80.9 227.6 L81.0 226.6 L81.0 225.6 L81.0 224.6 L81.1 223.5 L81.1 222.5 L81.1 221.5 L81.1 220.5 L81.2 219.5 L81.2 218.5 L81.2 217.5 L81.2 216.5 L81.3 215.5 L81.3 214.5 L81.3 213.5 L81.4 212.5 L81.4 211.5 L81.4 210.5 L81.4 209.5 L81.5 208.5 L81.5 207.5 L81.5 206.4 L81.5 205.4 L81.6 204.4 L81.6 203.4 L81.6 203.6 L81.5 204.6 L81.5 205.6 L81.4 206.6 L81.4 207.6 L81.4 208.6 L81.3 209.6 L81.3 209.4 L81.4 208.4 L81.4 207.4 L81.4 206.4 L81.5 205.4 L81.5 204.4 L81.6 203.4 L81.6 202.4 L81.7 201.3 L81.7 200.3 L81.7 199.3 L81.8 198.3 L81.8 197.3 L81.9 196.3 L81.9 195.3 L81.9 194.3 L82.0 193.3 L82.1 192.3 L82.2 191.3 L82.3 190.3 L82.4 189.3 L82.5 188.3 L82.6 187.3 L82.7 186.3 L82.8 185.3 L83.5 184.1 L84.6 181.5 L85.8 180.4 L87.0 177.5 L87.8 175.2 L88.7 173.2 L89.6 171.3 L90.5 169.5 L91.4 167.5 L92.2 165.8 L93.1 163.7 L94.0 161.7 L94.8 159.4 L95.6 156.8 L96.5 155.2 L97.9 152.5 L99.3 150.5 L101.0 149.5 L102.2 146.8 L103.6 146.1 L105.0 143.3 L106.6 141.7 L108.3 140.3 L109.9 138.3 L111.6 136.9 L113.3 135.1 L115.1 133.4 L116.8 132.2 L118.4 130.7 L120.4 130.2 L122.1 128.1 L123.8 127.9 L126.0 124.8 L127.8 125.2 L129.8 124.7 L131.9 123.6 L134.1 123.5 L136.4 122.6 L138.5 121.6 L140.5 121.3 L142.5 121.8 L144.4 120.1 L146.4 119.6 L148.6 118.8 L151.1 118.5 L152.9 117.4 L154.8 117.5 L156.7 118.2 L158.7 117.2 L160.8 116.6 L163.0 116.3 L165.3 116.2 L167.6 115.3 L170.0 115.5 L171.9 114.8 L173.8 114.1 L175.9 114.6 L177.9 112.5 L180.1 113.0 L182.2 113.2 L184.4 112.4 L186.6 112.5 L188.8 112.0 L190.9 111.8 L193.1 113.1 L195.2 111.9 L197.3 111.3 L199.4 111.7 L201.5 110.8 L203.6 111.0 L205.7 110.5 L207.8 110.9 L209.9 109.3 L212.0 110.0 L214.1 109.5 L216.2 108.7 L218.3 109.5 L220.4 108.4 L222.5 109.3 L224.6 108.7 L226.7 108.6 L228.8 108.1 L230.9 108.4 L233.0 107.0 L235.1 107.7 L237.2 107.2 L239.3 107.5 L241.4 107.2 L243.5 107.3 L245.6 106.4 L247.7 107.4 L249.8 107.4 L251.9 106.0 L254.0 105.8 L256.1 105.7 L258.2 105.9 L260.3 105.9 L262.4 104.3 L264.5 104.3 L266.6 103.8 L268.7 103.5 L270.8 103.1 L272.9 103.7 L274.9 102.8 L277.0 103.8 L279.0 103.4 L281.0 102.3 L283.0 102.1 L285.1 102.1 L287.2 102.8 L289.3 101.6 L291.5 101.1 L293.7 101.5 L296.0 101.5 L298.0 100.8 L300.1 101.6 L302.3 100.7 L304.7 100.5 L307.1 99.7 L309.5 99.7 L311.9 99.4 L314.3 98.2 L316.6 99.1 L318.7 97.9 L320.8 98.4 L322.7 97.5 L324.4 98.9 L325.8 98.0 L327.0 98.1" fill="none" stroke="#1010e0" stroke-width="2.0" stroke-linejoin="round"/>
<path d="M75.0 118.9 L75.1 118.3 L75.2 117.6 L75.3 116.8 L75.4 115.9 L75.5 114.9 L75.7 113.8 L75.8 112.7 L76.0 111.5 L76.2 110.4 L76.4 109.2 L76.6 108.1 L76.8 107.0 L77.0 106.1 L77.2 105.1 L77.5 104.1 L77.7 103.1 L78.0 102.1 L78.2 101.1 L78.5 100.1 L78.8 99.0 L79.1 98.0 L79.4 97.0 L79.7 96.0 L80.0 95.1 L80.3 94.1 L80.6 93.2 L81.0 92.2 L81.3 91.1 L81.7 90.1 L82.1 89.1 L82.5 88.2 L82.9 87.2 L83.4 86.3 L83.8 85.3 L84.2 84.4 L84.7 83.6 L85.1 82.7 L85.6 81.9 L86.2 80.9 L86.7 80.0 L87.3 79.1 L87.9 78.3 L88.5 77.4 L89.1 76.6 L89.8 75.9 L90.5 75.1 L91.2 74.4 L91.9 73.8 L92.8 73.1 L93.7 72.5 L94.6 71.9 L95.6 71.4 L96.6 70.9 L97.7 70.4 L98.7 70.0 L99.7 69.6 L100.8 69.3 L101.7 69.0 L102.6 68.8 L103.6 68.6 L104.5 68.5 L105.4 68.4 L106.4 68.3 L107.4 68.3 L108.4 68.2 L109.6 68.3 L110.8 68.3 L111.7 68.4 L112.6 68.4 L113.6 68.5 L114.6 68.6 L115.6 68.8 L116.6 68.9 L117.7 69.1 L118.8 69.3 L119.9 69.4 L120.9 69.6 L122.0 69.8 L123.0 70.0 L124.1 70.2 L125.1 70.3 L126.0 70.5 L127.1 70.7 L128.2 70.9 L129.3 71.1 L130.4 71.3 L131.4 71.5 L132.4 71.7 L133.4 71.9 L134.4 72.1 L135.4 72.3 L136.4 72.5 L137.5 72.8 L138.5 73.0 L139.4 73.2 L140.4 73.4 L141.3 73.7 L142.2 73.9 L143.1 74.1 L143.9 74.4 L144.9 74.6 L145.8 74.9 L146.8 75.1 L147.8 75.4 L148.8 75.7 L149.9 76.0 L151.1 76.3 L151.9 76.5 L152.8 76.7 L153.7 77.0 L154.6 77.2 L155.5 77.5 L156.4 77.7 L157.3 78.0 L158.3 78.3 L159.3 78.5 L160.3 78.8 L161.3 79.1 L162.3 79.3 L163.4 79.6 L164.4 79.9 L165.5 80.1 L166.6 80.4 L167.7 80.6 L168.8 80.9 L170.0 81.1 L170.9 81.3 L171.8 81.4 L172.7 81.6 L173.7 81.8 L174.6 82.0 L175.6 82.1 L176.6 82.3 L177.6 82.5 L178.6 82.6 L179.6 82.8 L180.7 83.0 L181.7 83.1 L182.7 83.3 L183.8 83.4 L184.8 83.6 L185.9 83.7 L186.9 83.9 L188.0 84.0 L189.0 84.2 L190.1 84.3 L191.1 84.5 L192.1 84.6 L193.2 84.7 L194.2 84.9 L195.2 85.0 L196.2 85.1 L197.2 85.2 L198.2 85.4 L199.2 85.5 L200.2 85.6 L201.2 85.7 L202.3 85.8 L203.3 86.0 L204.3 86.1 L205.3 86.2 L206.3 86.3 L207.3 86.4 L208.3 86.5 L209.3 86.6 L210.3 86.7 L211.3 86.8 L212.3 86.9 L213.3 86.9 L214.4 87.0 L215.4 87.1 L216.4 87.2 L217.4 87.2 L218.4 87.3 L219.4 87.3 L220.4 87.4 L221.4 87.4 L222.4 87.5 L223.4 87.5 L224.4 87.6 L225.4 87.6 L226.4 87.6 L227.5 87.6 L228.5 87.7 L229.5 87.7 L230.5 87.7 L231.5 87.7 L232.5 87.7 L233.5 87.7 L234.5 87.7 L235.5 87.7 L236.5 87.7 L237.5 87.7 L238.5 87.6 L239.6 87.6 L240.6 87.6 L241.6 87.6 L242.6 87.5 L243.6 87.5 L244.6 87.4 L245.6 87.4 L246.6 87.4 L247.6 87.3 L248.6 87.2 L249.6 87.2 L250.6 87.1 L251.6 87.1 L252.7 87.0 L253.7 86.9 L254.7 86.9 L255.7 86.8 L256.7 86.7 L257.7 86.6 L258.7 86.5 L259.7 86.4 L260.7 86.3 L261.7 86.2 L262.7 86.1 L263.7 86.0 L264.8 85.9 L265.8 85.8 L266.8 85.7 L267.8 85.5 L268.8 85.4 L269.8 85.2 L270.8 85.1 L271.8 85.0 L272.8 84.8 L273.8 84.7 L274.8 84.5 L275.7 84.4 L276.7 84.2 L277.7 84.1 L278.7 83.9 L279.6 83.8 L280.6 83.6 L281.6 83.5 L282.5 83.3 L283.5 83.1 L284.5 82.9 L285.5 82.7 L286.5 82.5 L287.5 82.3 L288.5 82.0 L289.5 81.8 L290.6 81.5 L291.6 81.3 L292.7 81.0 L293.8 80.7 L294.9 80.3 L296.0 80.0 L296.9 79.7 L297.8 79.4 L298.7 79.1 L299.7 78.8 L300.7 78.4 L301.7 78.0 L302.7 77.6 L303.8 77.2 L304.9 76.8 L306.0 76.4 L307.1 75.9 L308.1 75.5 L309.3 75.0 L310.3 74.6 L311.4 74.1 L312.5 73.7 L313.6 73.2 L314.7 72.8 L315.7 72.3 L316.8 71.9 L317.8 71.4 L318.7 71.0 L319.7 70.6 L320.6 70.2 L321.5 69.8 L322.4 69.5 L323.2 69.1 L323.9 68.8 L324.7 68.5 L325.3 68.2 L325.9 67.9 L326.5 67.7 L327.0 67.5" fill="none" stroke="#22e022" stroke-width="2.0" stroke-linejoin="round"/>
<path d="M75.0 89.4 L75.1 88.8 L75.2 88.0 L75.3 87.1 L75.4 86.1 L75.5 85.0 L75.6 83.9 L75.7 82.7 L75.9 81.4 L76.0 80.2 L76.2 79.0 L76.4 77.8 L76.6 76.7 L76.8 75.6 L77.0 74.6 L77.3 73.5 L77.5 72.5 L77.8 71.5 L78.1 70.4 L78.4 69.4 L78.7 68.4 L79.0 67.4 L79.3 66.4 L79.6 65.5 L79.9 64.6 L80.3 63.8 L80.6 63.0 L81.1 61.8 L81.7 60.8 L82.3 59.8 L82.9 58.9 L83.5 58.1 L84.1 57.3 L84.8 56.6 L85.6 55.9 L86.4 55.2 L87.3 54.6 L88.3 54.1 L89.2 53.6 L90.2 53.1 L91.2 52.7 L92.2 52.4 L93.2 52.1 L94.3 51.8 L95.5 51.7 L96.8 51.6 L97.9 51.5 L99.0 51.5 L100.0 51.6 L100.8 51.6 L102.2 51.8 L102.8 52.5 L103.2 53.6 L103.5 55.0 L103.8 55.9 L104.5 55.4 L105.5 54.5 L105.9 54.0 L108.3 54.2 L108.9 54.3 L109.6 54.5 L110.4 54.6 L111.3 54.8 L112.3 55.0 L113.3 55.3 L114.3 55.5 L115.4 55.7 L116.5 56.0 L117.7 56.3 L118.8 56.5 L119.9 56.8 L121.0 57.1 L122.1 57.4 L123.2 57.6 L124.2 57.9 L125.1 58.2 L126.0 58.4 L127.1 58.7 L128.2 59.1 L129.2 59.4 L130.2 59.8 L131.2 60.1 L132.1 60.5 L133.0 60.9 L133.9 61.2 L134.8 61.6 L135.7 61.9 L136.6 62.3 L137.5 62.6 L138.5 63.0 L139.4 63.3 L140.4 63.7 L141.3 64.0 L142.2 64.3 L143.1 64.7 L143.9 65.0 L144.9 65.3 L145.8 65.6 L146.8 66.0 L147.8 66.3 L148.8 66.7 L149.9 67.1 L151.1 67.5 L151.9 67.8 L152.8 68.1 L153.7 68.4 L154.6 68.8 L155.5 69.1 L156.4 69.4 L157.3 69.8 L158.3 70.2 L159.3 70.5 L160.3 70.9 L161.3 71.2 L162.3 71.6 L163.4 71.9 L164.4 72.3 L165.5 72.6 L166.6 72.9 L167.7 73.2 L168.8 73.5 L170.0 73.8 L170.9 74.0 L171.8 74.2 L172.7 74.4 L173.7 74.6 L174.6 74.8 L175.6 74.9 L176.6 75.1 L177.6 75.3 L178.6 75.5 L179.6 75.6 L180.7 75.8 L181.7 76.0 L182.7 76.1 L183.8 76.3 L184.8 76.4 L185.9 76.5 L186.9 76.7 L188.0 76.8 L189.0 76.9 L190.1 77.1 L191.1 77.2 L192.1 77.3 L193.2 77.4 L194.2 77.5 L195.2 77.6 L196.2 77.7 L197.2 77.8 L198.2 77.9 L199.2 78.0 L200.2 78.1 L201.2 78.2 L202.3 78.3 L203.3 78.3 L204.3 78.4 L205.3 78.5 L206.3 78.6 L207.3 78.6 L208.3 78.7 L209.3 78.7 L210.3 78.8 L211.3 78.8 L212.3 78.8 L213.3 78.8 L214.4 78.8 L215.4 78.8 L216.4 78.8 L217.4 78.8 L218.4 78.7 L219.4 78.7 L220.4 78.6 L221.4 78.5 L222.4 78.4 L223.4 78.3 L224.4 78.2 L225.4 78.1 L226.4 77.9 L227.5 77.8 L228.5 77.6 L229.5 77.4 L230.5 77.3 L231.5 77.1 L232.5 76.9 L233.5 76.7 L234.5 76.4 L235.5 76.2 L236.5 76.0 L237.5 75.7 L238.5 75.5 L239.6 75.2 L240.6 75.0 L241.6 74.7 L242.6 74.4 L243.6 74.1 L244.6 73.8 L245.6 73.5 L246.5 73.2 L247.5 72.9 L248.4 72.6 L249.3 72.3 L250.3 72.0 L251.2 71.6 L252.1 71.3 L253.1 70.9 L254.0 70.6 L254.9 70.2 L255.9 69.8 L256.8 69.5 L257.7 69.1 L258.7 68.7 L259.6 68.3 L260.5 67.9 L261.5 67.5 L262.4 67.0 L263.3 66.6 L264.3 66.2 L265.2 65.7 L266.1 65.3 L267.1 64.9 L268.0 64.4 L268.9 63.9 L269.9 63.5 L270.8 63.0 L271.7 62.6 L272.5 62.1 L273.4 61.6 L274.2 61.2 L275.1 60.7 L275.9 60.2 L276.8 59.7 L277.6 59.3 L278.4 58.8 L279.3 58.3 L280.1 57.8 L280.9 57.2 L281.8 56.7 L282.6 56.2 L283.5 55.7 L284.3 55.1 L285.2 54.6 L286.0 54.1 L286.9 53.5 L287.8 53.0 L288.6 52.4 L289.5 51.9 L290.4 51.3 L291.3 50.8 L292.2 50.2 L293.2 49.6 L294.1 49.1 L295.0 48.5 L296.0 47.9 L296.8 47.4 L297.6 46.9 L298.5 46.4 L299.4 45.9 L300.3 45.4 L301.2 44.8 L302.1 44.3 L303.1 43.7 L304.1 43.1 L305.1 42.5 L306.0 41.9 L307.1 41.3 L308.1 40.7 L309.1 40.1 L310.1 39.5 L311.1 38.9 L312.1 38.3 L313.1 37.8 L314.1 37.2 L315.0 36.6 L316.0 36.0 L316.9 35.5 L317.8 34.9 L318.7 34.4 L319.6 33.9 L320.5 33.4 L321.3 32.9 L322.1 32.4 L322.8 32.0 L323.6 31.5 L324.2 31.1 L324.9 30.8 L325.5 30.4 L326.0 30.1 L326.5 29.8 L327.0 29.5" fill="none" stroke="#f08a20" stroke-width="2.0" stroke-linejoin="round"/>
<path d="M75.6 79.3 L75.7 78.7 L75.7 77.9 L75.8 77.0 L75.9 75.9 L76.0 74.8 L76.1 73.6 L76.2 72.4 L76.3 71.2 L76.5 70.1 L76.6 69.0 L76.8 68.0 L77.0 66.9 L77.2 65.8 L77.4 64.8 L77.7 63.8 L77.9 62.8 L78.2 61.9 L78.5 60.9 L78.9 60.1 L79.3 59.2 L79.8 58.3 L80.4 57.4 L81.0 56.5 L81.6 55.7 L82.3 54.9 L83.0 54.1 L83.7 53.5 L84.4 52.9 L85.3 52.2 L86.3 51.7 L87.2 51.3 L88.3 51.0 L89.4 50.7 L90.7 50.4 L91.6 50.2 L92.6 50.1 L93.7 50.0 L94.9 49.9 L96.0 49.8 L97.2 49.7 L98.2 49.7 L99.2 49.6 L100.1 49.6 L100.8 49.6 L102.4 49.7 L102.8 50.5 L103.1 51.5 L103.4 52.9 L103.6 54.2 L103.8 54.9 L104.3 54.1 L105.0 52.8 L105.7 52.5 L107.0 52.4 L107.7 52.3 L108.6 52.3 L109.5 52.2 L110.6 52.2 L111.9 52.2 L113.4 52.4 L114.2 52.5 L115.1 52.7 L116.1 52.9 L117.1 53.1 L118.2 53.4 L119.3 53.6 L120.4 53.9 L121.6 54.2 L122.7 54.5 L123.8 54.8 L124.9 55.1 L126.0 55.4 L127.0 55.7 L127.9 56.0 L128.9 56.3 L129.9 56.6 L130.8 57.0 L131.8 57.3 L132.7 57.7 L133.7 58.0 L134.6 58.4 L135.6 58.7 L136.6 59.1 L137.5 59.4 L138.5 59.7 L139.4 60.0 L140.4 60.3 L141.3 60.6 L142.2 60.9 L143.1 61.1 L143.9 61.4 L144.9 61.7 L145.8 62.0 L146.8 62.3 L147.8 62.6 L148.8 62.9 L149.9 63.2 L151.1 63.5 L151.9 63.7 L152.8 64.0 L153.6 64.2 L154.5 64.5 L155.4 64.7 L156.3 65.0 L157.2 65.3 L158.2 65.5 L159.1 65.8 L160.1 66.1 L161.1 66.4 L162.1 66.6 L163.2 66.9 L164.2 67.2 L165.3 67.5 L166.5 67.7 L167.6 68.0 L168.8 68.2 L170.0 68.5 L170.8 68.7 L171.7 68.9 L172.6 69.1 L173.5 69.3 L174.5 69.5 L175.4 69.7 L176.4 69.9 L177.4 70.1 L178.4 70.3 L179.4 70.5 L180.5 70.7 L181.5 71.0 L182.6 71.2 L183.6 71.4 L184.7 71.6 L185.7 71.8 L186.8 71.9 L187.8 72.1 L188.9 72.3 L189.9 72.4 L190.9 72.6 L191.9 72.7 L192.9 72.8 L193.9 72.9 L194.9 72.9 L195.9 73.0 L196.8 73.0 L197.7 73.0 L198.8 73.0 L199.8 72.9 L200.9 72.9 L201.9 72.8 L202.9 72.7 L203.9 72.5 L204.9 72.4 L205.9 72.2 L206.8 72.1 L207.8 71.9 L208.7 71.6 L209.7 71.4 L210.6 71.2 L211.6 70.9 L212.5 70.6 L213.5 70.3 L214.4 70.0 L215.4 69.7 L216.4 69.4 L217.4 69.1 L218.4 68.7 L219.4 68.4 L220.4 68.0 L221.3 67.7 L222.2 67.3 L223.1 67.0 L224.0 66.6 L224.9 66.2 L225.8 65.8 L226.8 65.4 L227.7 65.0 L228.6 64.6 L229.5 64.1 L230.5 63.7 L231.4 63.2 L232.4 62.7 L233.3 62.3 L234.3 61.8 L235.2 61.3 L236.2 60.8 L237.1 60.3 L238.1 59.9 L239.0 59.4 L240.0 58.9 L240.9 58.4 L241.8 57.9 L242.8 57.4 L243.7 56.9 L244.7 56.5 L245.6 56.0 L246.5 55.5 L247.4 55.1 L248.3 54.6 L249.2 54.2 L250.1 53.7 L251.0 53.3 L251.9 52.8 L252.8 52.3 L253.7 51.9 L254.6 51.4 L255.5 51.0 L256.4 50.5 L257.3 50.0 L258.2 49.5 L259.1 49.1 L260.0 48.6 L260.9 48.1 L261.8 47.6 L262.7 47.2 L263.6 46.7 L264.5 46.2 L265.4 45.7 L266.3 45.2 L267.2 44.8 L268.1 44.3 L269.0 43.8 L269.9 43.3 L270.8 42.8 L271.7 42.3 L272.6 41.8 L273.5 41.3 L274.3 40.8 L275.2 40.3 L276.1 39.8 L277.0 39.2 L277.8 38.7 L278.7 38.2 L279.6 37.7 L280.4 37.1 L281.3 36.6 L282.2 36.1 L283.0 35.6 L283.9 35.0 L284.8 34.5 L285.7 34.0 L286.6 33.5 L287.5 33.0 L288.4 32.4 L289.3 31.9 L290.2 31.4 L291.2 30.9 L292.1 30.4 L293.1 29.9 L294.0 29.5 L295.0 29.0 L296.0 28.5 L296.9 28.1 L297.8 27.7 L298.7 27.3 L299.7 26.9 L300.7 26.5 L301.7 26.0 L302.7 25.6 L303.8 25.2 L304.9 24.8 L306.0 24.3 L307.1 23.9 L308.1 23.5 L309.3 23.1 L310.3 22.7 L311.4 22.3 L312.5 21.9 L313.6 21.5 L314.7 21.1 L315.7 20.7 L316.8 20.3 L317.8 20.0 L318.7 19.6 L319.7 19.3 L320.6 18.9 L321.5 18.6 L322.4 18.3 L323.2 18.0 L323.9 17.7 L324.7 17.5 L325.3 17.2 L325.9 17.0 L326.5 16.8 L327.0 16.6" fill="none" stroke="#e81010" stroke-width="2.0" stroke-linejoin="round"/></g>
<path d="M66 5.2 H327 V281" fill="none" stroke="#262628" stroke-width="1.6"/>
<path d="M66 4.5 V281 H327.6" fill="none" stroke="#000" stroke-width="1.6"/>
<path d="M66 24.4 h-6 M66 5.1 h-3.2 M66 88.6 h-6 M66 69.3 h-3.2 M66 58.0 h-3.2 M66 49.9 h-3.2 M66 43.7 h-3.2 M66 38.6 h-3.2 M66 34.3 h-3.2 M66 30.6 h-3.2 M66 27.3 h-3.2 M66 152.8 h-6 M66 133.5 h-3.2 M66 122.2 h-3.2 M66 114.1 h-3.2 M66 107.9 h-3.2 M66 102.8 h-3.2 M66 98.5 h-3.2 M66 94.8 h-3.2 M66 91.5 h-3.2 M66 217.0 h-6 M66 197.7 h-3.2 M66 186.4 h-3.2 M66 178.3 h-3.2 M66 172.1 h-3.2 M66 167.0 h-3.2 M66 162.7 h-3.2 M66 159.0 h-3.2 M66 155.7 h-3.2 M66 281.2 h-6 M66 261.9 h-3.2 M66 250.6 h-3.2 M66 242.5 h-3.2 M66 236.3 h-3.2 M66 231.2 h-3.2 M66 226.9 h-3.2 M66 223.2 h-3.2 M66 219.9 h-3.2" stroke="#000" stroke-width="1.4" fill="none"/>
<path d="M73.3 281 v6 M158.0 281 v6 M242.7 281 v6 M327.4 281 v6 M115.7 281 v3.2 M200.4 281 v3.2 M285.1 281 v3.2" stroke="#000" stroke-width="1.4" fill="none"/>
<text transform="translate(55.3,29) scale(1.08,1)" class="b" font-size="12.6" text-anchor="end">10<tspan font-size="8.3" dy="-5.2">-8</tspan></text>
<text transform="translate(55.3,93.2) scale(1.08,1)" class="b" font-size="12.6" text-anchor="end">10<tspan font-size="8.3" dy="-5.2">-9</tspan></text>
<text transform="translate(55.3,157.4) scale(1.08,1)" class="b" font-size="12.6" text-anchor="end">10<tspan font-size="8.3" dy="-5.2">-10</tspan></text>
<text transform="translate(55.3,221.6) scale(1.08,1)" class="b" font-size="12.6" text-anchor="end">10<tspan font-size="8.3" dy="-5.2">-11</tspan></text>
<text transform="translate(55.3,285.8) scale(1.08,1)" class="b" font-size="12.6" text-anchor="end">10<tspan font-size="8.3" dy="-5.2">-12</tspan></text>
<text transform="translate(73,301.9) scale(1.05,1)" class="b" font-size="14.3" text-anchor="middle">0.0</text>
<text transform="translate(157.7,301.9) scale(1.05,1)" class="b" font-size="14.3" text-anchor="middle">0.5</text>
<text transform="translate(242.4,301.9) scale(1.05,1)" class="b" font-size="14.3" text-anchor="middle">1.0</text>
<text transform="translate(327.1,301.9) scale(1.05,1)" class="b" font-size="14.3" text-anchor="middle">1.5</text>
<text transform="translate(196,325.6) scale(1.08,1)" class="b" font-size="14.3" text-anchor="middle">Electric Field (MV cm<tspan font-size="9.5" dy="-6">-1</tspan><tspan dy="6">), E</tspan></text>
<text transform="translate(15.7,134) rotate(-90) scale(1.08,1)" class="b" font-size="14.6" text-anchor="middle">Current Density (A cm<tspan font-size="9.5" dy="-6">-2</tspan><tspan dy="6">), J</tspan></text>
<path d="M207.8 202.2 H235.6" stroke="#1010e0" stroke-width="2"/>
<text transform="translate(238.2,206.2) scale(1.02,1)" class="b" font-size="11" text-anchor="start">P2</text>
<path d="M254.4 202.2 H281.1" stroke="#1a1acc" stroke-width="1.3" stroke-dasharray="3.4 2.4"/>
<text transform="translate(284.8,206.2) scale(1.02,1)" class="b" font-size="11" text-anchor="start">R2</text>
<path d="M207.8 217.1 H235.6" stroke="#22e022" stroke-width="2"/>
<text transform="translate(238.2,221.1) scale(1.02,1)" class="b" font-size="11" text-anchor="start">P3</text>
<path d="M254.4 217.1 H281.1" stroke="#22d322" stroke-width="1.3" stroke-dasharray="3.4 2.4"/>
<text transform="translate(284.8,221.1) scale(1.02,1)" class="b" font-size="11" text-anchor="start">R3</text>
<path d="M207.8 232.2 H235.6" stroke="#f08a20" stroke-width="2"/>
<text transform="translate(238.2,236.2) scale(1.02,1)" class="b" font-size="11" text-anchor="start">P4</text>
<path d="M254.4 232.2 H281.1" stroke="#f08a28" stroke-width="1.3" stroke-dasharray="3.4 2.4"/>
<text transform="translate(284.8,236.2) scale(1.02,1)" class="b" font-size="11" text-anchor="start">R4</text>
<path d="M207.8 246.7 H235.6" stroke="#e81010" stroke-width="2"/>
<text transform="translate(238.2,250.7) scale(1.02,1)" class="b" font-size="11" text-anchor="start">P5</text>
<path d="M254.4 246.7 H281.1" stroke="#e02020" stroke-width="1.3" stroke-dasharray="3.4 2.4"/>
<text transform="translate(284.8,250.7) scale(1.02,1)" class="b" font-size="11" text-anchor="start">R5</text>
<path d="M254.4 261.8 H281.1" stroke="#7a7a7a" stroke-width="1.2" stroke-dasharray="3.4 2.4"/>
<text transform="translate(284.2,265.8) scale(1.02,1)" class="b" font-size="11" text-anchor="start">SiO<tspan font-size="7.5" dy="3">2</tspan><tspan dy="-3">:P</tspan></text>
</g>
<g id="panelB">
<text x="348.9" y="18.7" class="b" font-size="25">b</text>
<path d="M381.8 69 L398 50 L557.2 50 L557.2 284 L538 302.6 L381.8 302.6 Z" fill="#666" opacity="0.6" filter="url(#sh)" transform="translate(1.5,2)"/>
<rect x="381.8" y="69" width="156.2" height="233.6" fill="#f2b088"/>
<rect x="381.8" y="69" width="156.2" height="24" fill="#f0b48e"/>
<path d="M381.8 69 L398 50 L557.2 50 L538 69 Z" fill="#f3ba95"/>
<path d="M538 69 L557.2 50 L557.2 284 L538 302.6 Z" fill="#dfa98a"/>
<rect x="381.8" y="257.8" width="156.2" height="44.8" fill="#548fe6"/>
<path d="M538 257.8 L557.2 238.4 L557.2 284 L538 302.6 Z" fill="#4d86dc"/>
<path d="M538 302.6 L557.2 284 L551.2 285 Z" fill="#9fbfee" opacity="0.45"/>
<rect x="381.8" y="215" width="156.2" height="23.5" fill="url(#low)"/>
<path d="M538 215 L557.2 195 V238.4 L538 257.8 Z" fill="#e6ad8a"/>
<path d="M381.8 257.8 L398 238.4 L538.2 238.4 L538 257.8 Z" fill="#b08a84"/>
<path d="M538 257.8 V238.4 H557.2 Z" fill="#ac8985"/>
<path d="M381.8 215 L398 195 L538 195 L538 215 Z" fill="#ec9c66"/>
<path d="M538 215 V195 H557.2 Z" fill="#e0a07a"/>
<rect x="381.8" y="113" width="156.2" height="38" fill="url(#grn)"/>
<path d="M538 113.5 L557.2 94 L557.2 133 L538 150 Z" fill="url(#grnS)"/>
<path d="M381.8 113.6 L396 94 L538 94 L538 113.6 Z" fill="#979a50"/>
<path d="M538 113.6 V94 H557.2 Z" fill="#878f4c"/>
<circle cx="417.7" cy="119.3" r="5.8" fill="#2c8450" opacity="0.6"/>
<circle cx="454.6" cy="119.3" r="5.8" fill="#2c8450" opacity="0.6"/>
<circle cx="494.2" cy="119.3" r="5.8" fill="#2c8450" opacity="0.6"/>
<circle cx="530.8" cy="119.3" r="5.8" fill="#2c8450" opacity="0.6"/>
<circle cx="434.8" cy="137.5" r="5.7" fill="#94796a" opacity="0.6"/>
<circle cx="472.2" cy="137.5" r="5.7" fill="#94796a" opacity="0.6"/>
<circle cx="510.6" cy="137.5" r="5.7" fill="#94796a" opacity="0.6"/>
<circle cx="434.8" cy="172.8" r="5.7" fill="#94796a" opacity="0.6"/>
<circle cx="472.2" cy="172.8" r="5.7" fill="#94796a" opacity="0.6"/>
<circle cx="510.6" cy="172.8" r="5.7" fill="#94796a" opacity="0.6"/>
<circle cx="530.6" cy="154.4" r="5.7" fill="#9c7c66" opacity="0.6"/>
<circle cx="530.6" cy="190.0" r="5.7" fill="#9c7c66" opacity="0.6"/>
<circle cx="402.6" cy="135.9" r="6.7" fill="#5a7ea8" opacity="0.55"/>
<circle cx="402.6" cy="135.6" r="6.2" fill="url(#nc)" opacity="1"/>
<circle cx="438.2" cy="135.9" r="6.7" fill="#5a7ea8" opacity="0.55"/>
<circle cx="438.2" cy="135.6" r="6.2" fill="url(#nc)" opacity="1"/>
<circle cx="478.0" cy="135.9" r="6.7" fill="#5a7ea8" opacity="0.55"/>
<circle cx="478.0" cy="135.6" r="6.2" fill="url(#nc)" opacity="1"/>
<circle cx="514.3" cy="135.9" r="6.7" fill="#5a7ea8" opacity="0.55"/>
<circle cx="514.3" cy="135.6" r="6.2" fill="url(#nc)" opacity="1"/>
<circle cx="402.6" cy="171.3" r="6.7" fill="#5a7ea8" opacity="0.55"/>
<circle cx="402.6" cy="171.0" r="6.2" fill="url(#nc)" opacity="1"/>
<circle cx="438.2" cy="171.3" r="6.7" fill="#5a7ea8" opacity="0.55"/>
<circle cx="438.2" cy="171.0" r="6.2" fill="url(#nc)" opacity="1"/>
<circle cx="478.0" cy="171.3" r="6.7" fill="#5a7ea8" opacity="0.55"/>
<circle cx="478.0" cy="171.0" r="6.2" fill="url(#nc)" opacity="1"/>
<circle cx="514.3" cy="171.3" r="6.7" fill="#5a7ea8" opacity="0.55"/>
<circle cx="514.3" cy="171.0" r="6.2" fill="url(#nc)" opacity="1"/>
<circle cx="402.6" cy="206.8" r="6.7" fill="#5a7ea8" opacity="0.55"/>
<circle cx="402.6" cy="206.5" r="6.2" fill="url(#nc)" opacity="1"/>
<circle cx="438.2" cy="206.8" r="6.7" fill="#5a7ea8" opacity="0.55"/>
<circle cx="438.2" cy="206.5" r="6.2" fill="url(#nc)" opacity="1"/>
<circle cx="478.0" cy="206.8" r="6.7" fill="#5a7ea8" opacity="0.55"/>
<circle cx="478.0" cy="206.5" r="6.2" fill="url(#nc)" opacity="1"/>
<circle cx="514.3" cy="206.8" r="6.7" fill="#5a7ea8" opacity="0.55"/>
<circle cx="514.3" cy="206.5" r="6.2" fill="url(#nc)" opacity="1"/>
<circle cx="419.6" cy="154.4" r="6.7" fill="#5a7ea8" opacity="0.55"/>
<circle cx="419.6" cy="154.1" r="6.2" fill="url(#nc)" opacity="1"/>
<circle cx="456.6" cy="154.4" r="6.7" fill="#5a7ea8" opacity="0.55"/>
<circle cx="456.6" cy="154.1" r="6.2" fill="url(#nc)" opacity="1"/>
<circle cx="495.8" cy="154.4" r="6.7" fill="#5a7ea8" opacity="0.55"/>
<circle cx="495.8" cy="154.1" r="6.2" fill="url(#nc)" opacity="1"/>
<circle cx="419.6" cy="189.9" r="6.7" fill="#5a7ea8" opacity="0.55"/>
<circle cx="419.6" cy="189.6" r="6.2" fill="url(#nc)" opacity="1"/>
<circle cx="456.6" cy="189.9" r="6.7" fill="#5a7ea8" opacity="0.55"/>
<circle cx="456.6" cy="189.6" r="6.2" fill="url(#nc)" opacity="1"/>
<circle cx="495.8" cy="189.9" r="6.7" fill="#5a7ea8" opacity="0.55"/>
<circle cx="495.8" cy="189.6" r="6.2" fill="url(#nc)" opacity="1"/>
<circle cx="454.6" cy="119.4" r="2.5" fill="#ee1018"/>
<circle cx="419.8" cy="153.9" r="2.5" fill="#ee1018"/>
<circle cx="530.6" cy="154.4" r="2.5" fill="#ee1018"/>
<circle cx="456.5" cy="190.0" r="2.5" fill="#ee1018"/>
<circle cx="514.6" cy="207.0" r="2.5" fill="#ee1018"/>
<path d="M426 150 V117.8 M422.5 123.3 L426 117.8 L429.5 123.3" fill="none" stroke="#111" stroke-width="1.3"/>
<path d="M452.1 182.5 V150.2 M448.6 155.7 L452.1 150.2 L455.6 155.7" fill="none" stroke="#111" stroke-width="1.3"/>
<path d="M517.1 199 V166.9 M513.6 172.4 L517.1 166.9 L520.6 172.4" fill="none" stroke="#111" stroke-width="1.3"/>
<circle cx="427.5" cy="151.4" r="2.1" fill="#35d435"/>
<circle cx="452.7" cy="184.1" r="2.1" fill="#35d435"/>
<circle cx="517.5" cy="200.8" r="2.1" fill="#35d435"/>
<path d="M409.4 41 V56.5 A61.7 9.5 0 0 0 532.8 56.5 V41 Z" fill="#8b8c98"/>
<ellipse cx="471.1" cy="41" rx="61.7" ry="9.4" fill="#a9aeba"/>
<text x="433.2" y="45.7" font-size="15" textLength="71" lengthAdjust="spacingAndGlyphs" fill="#1c1c1c" stroke="#1c1c1c" stroke-width="0.35">Al contact</text>
<text x="460.1" y="82.4" font-size="15" textLength="77.5" lengthAdjust="spacingAndGlyphs" fill="#1c1c1c" stroke="#1c1c1c" stroke-width="0.35">10 nm SiO<tspan font-size="10.8" dy="3.3">2</tspan></text>
<text x="458" y="252.2" font-size="15" textLength="77.5" lengthAdjust="spacingAndGlyphs" fill="#1c1c1c" stroke="#1c1c1c" stroke-width="0.35">10 nm SiO<tspan font-size="10.8" dy="3.3">2</tspan></text>
<text x="509.3" y="297.9" font-size="15" textLength="25.8" lengthAdjust="spacingAndGlyphs" fill="#1c1c1c" stroke="#1c1c1c" stroke-width="0.35">n-Si</text>
<circle cx="471.2" cy="16" r="11" fill="none" stroke="#111" stroke-width="1.4"/><path d="M463.4 16 H479 M471.2 8.2 V23.8" stroke="#111" stroke-width="1.6"/>
<circle cx="459.8" cy="316.4" r="11" fill="none" stroke="#111" stroke-width="1.4"/><path d="M454 316.4 H465.6" stroke="#111" stroke-width="1.9"/>
</g>
<g id="panelC">
<text x="11.1" y="404.3" class="b" font-size="25.3">c</text>
<path d="M66 392.5 H327 V669" fill="none" stroke="#262628" stroke-width="1.6"/>
<path d="M66 391.8 V669 H327.6" fill="none" stroke="#000" stroke-width="1.6"/>
<path d="M66 669.0 h-6 M66 599.8 h-6 M66 530.6 h-6 M66 461.4 h-6 M66 392.2 h-6 M66 634.4 h-3.2 M66 565.2 h-3.2 M66 496.0 h-3.2 M66 426.8 h-3.2 M98.2 669 v5.5 M163.7 669 v5.5 M229.2 669 v5.5 M294.7 669 v5.5" stroke="#000" stroke-width="1.4" fill="none"/>
<text transform="translate(55.5,673.8) scale(1.03,1)" class="b" font-size="13.4" text-anchor="end">0.0</text>
<text transform="translate(55.5,604.6) scale(1.03,1)" class="b" font-size="13.4" text-anchor="end">0.1</text>
<text transform="translate(55.5,535.4) scale(1.03,1)" class="b" font-size="13.4" text-anchor="end">0.2</text>
<text transform="translate(55.5,466.2) scale(1.03,1)" class="b" font-size="13.4" text-anchor="end">0.3</text>
<text transform="translate(55.5,397) scale(1.03,1)" class="b" font-size="13.4" text-anchor="end">0.4</text>
<text transform="translate(97.7,689.8) scale(1.08,1)" class="b" font-size="14" text-anchor="middle">P2</text>
<text transform="translate(163.2,689.8) scale(1.08,1)" class="b" font-size="14" text-anchor="middle">P3</text>
<text transform="translate(228.7,689.8) scale(1.08,1)" class="b" font-size="14" text-anchor="middle">P4</text>
<text transform="translate(294.2,689.8) scale(1.08,1)" class="b" font-size="14" text-anchor="middle">P5</text>
<text transform="translate(195.7,714.6) scale(1.08,1)" class="b" font-size="14.3" text-anchor="middle">Sample</text>
<text transform="translate(22,529.4) rotate(-90) scale(1.11,1)" class="b" font-size="15" text-anchor="middle">P-ionization energy (eV), E<tspan font-size="8.5" dy="3">ion</tspan></text>
<path d="M66 637.6 H327" stroke="#484848" stroke-width="1.3" stroke-dasharray="1.7 1.65"/>
<path d="M98.2 531.3 V570.5 M95 531.3 h6.4 M95 570.5 h6.4 M163.7 556.2 V589.7 M160.5 556.2 h6.4 M160.5 589.7 h6.4 M229.2 570.0 V595.3 M226 570.0 h6.4 M226 595.3 h6.4 M294.7 580.2 V604.2 M291.5 580.2 h6.4 M291.5 604.2 h6.4" stroke="#167a16" stroke-width="1.3" fill="none"/>
<path d="M98.2 551.4 C103.5 553.2 119.1 559.0 130.0 562.5 C140.9 566.0 151.8 570.1 163.5 572.7 C175.2 575.3 189.1 576.5 200.0 578.0 C210.9 579.5 221.0 580.3 228.8 581.7 C236.6 583.1 240.2 585.0 246.7 586.4 C253.2 587.8 260.1 588.9 268.0 589.8 C275.9 590.7 290.0 591.6 294.4 592.0" stroke="#167a16" stroke-width="1.4" fill="none"/>
<circle cx="98.2" cy="551.4" r="5.6" fill="url(#gb)"/>
<circle cx="163.7" cy="572.9" r="5.6" fill="url(#gb)"/>
<circle cx="229.2" cy="582.1" r="5.6" fill="url(#gb)"/>
<circle cx="294.7" cy="592.2" r="5.6" fill="url(#gb)"/>
<path d="M98.2 417.4 V556.2 M94.8 417.4 h6.8 M94.8 556.2 h6.8 M163.7 509.1 V564.1 M160.3 509.1 h6.8 M160.3 564.1 h6.8 M229.2 565.2 V610.5 M225.8 565.2 h6.8 M225.8 610.5 h6.8 M294.7 567.3 V615.4 M291.3 567.3 h6.8 M291.3 615.4 h6.8" stroke="#10108a" stroke-width="1.3" fill="none"/>
<path d="M98.2 487.0 C103.5 491.0 119.1 502.8 130.0 511.0 C140.9 519.2 155.2 529.9 163.5 536.3 C171.8 542.7 175.0 545.2 180.0 549.3 C185.0 553.4 188.9 557.2 193.3 560.8 C197.8 564.4 202.2 567.9 206.7 570.8 C211.1 573.7 216.3 576.4 220.0 578.2 C223.7 580.0 224.4 580.3 228.8 581.7 C233.2 583.1 240.2 585.3 246.7 586.7 C253.2 588.1 260.1 589.0 268.0 589.9 C275.9 590.8 290.0 591.6 294.4 592.0" stroke="#10108a" stroke-width="1.4" fill="none"/>
<circle cx="98.2" cy="487.0" r="5.6" fill="url(#bb)"/>
<circle cx="163.7" cy="536.5" r="5.6" fill="url(#bb)"/>
<circle cx="229.2" cy="588.2" r="5.6" fill="url(#bb)"/>
<circle cx="294.7" cy="592.2" r="5.6" fill="url(#bb)"/>
<path d="M191.4 410.1 H223.8" stroke="#10108a" stroke-width="1.4"/><circle cx="208" cy="410.1" r="5.3" fill="url(#bb)"/>
<text transform="translate(226.7,414.4) scale(1.03,1)" class="b" font-size="11" text-anchor="start">E<tspan font-size="7.5" dy="3">ion</tspan><tspan dy="-3"> from J-E</tspan></text>
<path d="M191.4 431 H223.8" stroke="#167a16" stroke-width="1.4"/><circle cx="208" cy="431" r="5.3" fill="url(#gb)"/>
<text transform="translate(226.7,435.5) scale(1.025,1)" class="b" font-size="11" text-anchor="start">E<tspan font-size="7.5" dy="3">ion</tspan><tspan dy="-3"> estim. via PL</tspan></text>
<path d="M191.4 452.1 H220.5" stroke="#484848" stroke-width="1.3" stroke-dasharray="1.7 1.65"/>
<text transform="translate(226.7,456) scale(1.03,1)" class="b" font-size="11" text-anchor="start">P in bulk-Si</text>
</g>
<g id="panelD">
<text x="349" y="404.5" class="b" font-size="25">d</text>
<text transform="translate(380.3,408.5) scale(1.055,1)" class="b" font-size="16.8" text-anchor="start">bulk-Si</text>
<text transform="translate(559.3,409) scale(1.03,1)" class="b" font-size="16.8" text-anchor="start">Si NC</text>
<path d="M455 463.8 H630 M455 532.6 H630" stroke="#bdbdbd" stroke-width="1.1" stroke-dasharray="1.7 2"/>
<path d="M464 480.7 H495.7 V464.3 L527.3 497.7 L495.7 531.7 V514.3 H464 Z" fill="#777" opacity="0.4" filter="url(#sh2)" transform="translate(1.2,1.5)"/>
<path d="M464 480.7 H495.7 V464.3 L527.3 497.7 L495.7 531.7 V514.3 H464 Z" fill="#8a8a8a"/>
<text transform="translate(488,505.7) scale(1.08,1)" class="b" font-size="19.3" text-anchor="middle" fill="#fff">QC</text>
<path d="M366.3 463.5 H454.4 M366.3 532.5 H454.4 M538.1 437.8 H626.7 M538.1 582.3 H626.7" stroke="#000" stroke-width="2.4"/>
<path d="M366.3 477.2 H449.2" stroke="#000" stroke-width="1.7" stroke-dasharray="10.7 4.4"/>
<path d="M538.1 477.4 H619.8" stroke="#000" stroke-width="1.7" stroke-dasharray="7.9 3.3"/>
<text transform="translate(372.4,457.2) scale(1.08,1)" class="b" font-size="14.2" text-anchor="start">CB</text>
<text transform="translate(372.4,550) scale(1.08,1)" class="b" font-size="14.2" text-anchor="start">VB</text>
<text transform="translate(535.2,442.7) scale(1.08,1)" class="b" font-size="14.5" text-anchor="end">LUS</text>
<text transform="translate(535.2,587.3) scale(1.08,1)" class="b" font-size="14.5" text-anchor="end">HOS</text>
<path d="M418.8 465 V530.8 M415.5 470.4 L418.8 465.2 L422.1 470.4 M415.5 525.4 L418.8 530.6 L422.1 525.4" fill="none" stroke="#000" stroke-width="1.7" stroke-linejoin="miter"/>
<path d="M375.8 465.2 V476.4 M372.8 469 L375.8 465.4 L378.8 469 M372.8 472.6 L375.8 476.2 L378.8 472.6" fill="none" stroke="#1ba1e2" stroke-width="2" stroke-linejoin="miter"/>
<path d="M545 439.6 V463.8 M541.8 444.8 L545 439.8 L548.2 444.8 " fill="none" stroke="#7f7f7f" stroke-width="1.8" stroke-linejoin="miter"/>
<path d="M545 532.7 V580.4 M541.8 575.2 L545 580.2 L548.2 575.2" fill="none" stroke="#7f7f7f" stroke-width="1.8" stroke-linejoin="miter"/>
<path d="M574 439.6 V580.4 M570.4 445.3 L574 439.8 L577.6 445.3 M570.4 574.7 L574 580.2 L577.6 574.7" fill="none" stroke="#e8101a" stroke-width="2.5" stroke-linejoin="miter"/>
<path d="M621 439.6 V477 M617.8 444.8 L621 439.8 L624.2 444.8 M617.8 471.8 L621 476.8 L624.2 471.8" fill="none" stroke="#1ba1e2" stroke-width="2.3" stroke-linejoin="miter"/>
<text transform="translate(424.4,503.4) scale(1.04,1)" class="b" font-size="14.3" text-anchor="start">E<tspan font-size="10.5" dy="3.5">gap</tspan></text>
<text transform="translate(350.2,487.8) scale(1,1)" class="b" font-size="14.8" text-anchor="start" fill="#1ba1e2">E<tspan font-size="10.5" dy="3.4">ion,bulk</tspan></text>
<text transform="translate(580,510) scale(1.04,1)" class="b" font-size="14.8" text-anchor="start" fill="#e8101a">E<tspan font-size="10.5" dy="3.3">PL</tspan></text>
<text transform="translate(628.3,462.3) scale(1,1)" class="b" font-size="14.8" text-anchor="start" fill="#1ba1e2">E<tspan font-size="10.5" dy="3.3">ion,NC</tspan></text>
</g>
</svg></body></html>
